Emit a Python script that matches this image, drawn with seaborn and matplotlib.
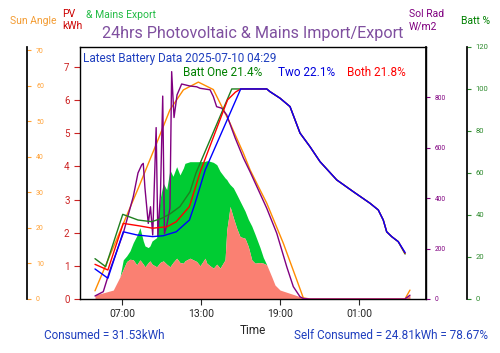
import matplotlib
matplotlib.use("Agg")
import matplotlib.pyplot as plt
import seaborn as sns

sns.set_theme(style="white")
plt.rcParams["font.family"] = ["Roboto", "DejaVu Sans"]

# --- data (hours since midnight of first day) ---
fill_hours = [4.92, 5.68, 6.31, 6.82, 7.07, 7.33, 7.58, 7.83, 8.09, 8.34, 8.59, 8.72, 8.97,
              9.10, 9.26, 9.61, 9.86, 10.11, 10.37, 10.62, 10.85, 11.13, 11.38, 11.64, 11.76,
              12.14, 12.65, 12.91, 13.29, 13.42, 13.67, 13.92, 14.18, 14.43, 14.81, 14.94,
              15.06, 15.19, 15.44, 15.70, 15.95, 16.33, 16.58, 16.84, 17.09, 17.47, 17.72,
              17.98, 18.36, 18.61, 18.99, 19.75, 20.51, 20.76, 21.27, 28.11, 28.49, 28.87]
self_used = [0.12, 0.20, 0.27, 0.67, 0.90, 1.13, 1.20, 1.18, 1.03, 1.18, 1.05, 0.97, 1.10,
             1.15, 1.05, 0.97, 1.10, 1.15, 1.05, 0.97, 1.10, 1.23, 1.10, 1.08, 1.15,
             1.23, 1.13, 1.00, 1.23, 1.08, 1.00, 0.93, 1.05, 0.93, 1.18, 2.08,
             2.40, 2.79, 2.45, 2.13, 1.88, 1.83, 1.58, 1.18, 1.08, 1.10, 1.08,
             1.03, 0.67, 0.42, 0.27, 0.17, 0.07, 0.02, 0.00, 0.00, 0.00, 0.12]
pv_total = [0.12, 0.20, 0.27, 0.67, 1.18, 1.30, 1.45, 1.70, 1.90, 2.15, 1.75, 1.60, 1.55,
            1.60, 1.75, 1.85, 3.00, 3.49, 3.30, 3.89, 3.70, 3.99, 3.74, 3.95, 4.09,
            4.14, 4.14, 4.14, 4.15, 4.17, 4.15, 4.12, 4.05, 3.85, 3.65, 3.60,
            3.52, 3.45, 3.35, 3.15, 2.95, 2.65, 2.40, 2.20, 1.95, 1.55, 1.25,
            1.03, 0.67, 0.42, 0.27, 0.17, 0.07, 0.02, 0.00, 0.00, 0.00, 0.12]

sun_hours = [4.92, 6.0, 7.0, 8.21, 9.61, 10.62, 11.64, 12.78, 13.92, 14.43, 15.19, 16.2,
             16.71, 17.34, 17.98, 19.24, 20.26, 20.76, 21.27, 28.49, 28.87]
sun_angle = [2.3, 11.8, 20.6, 31.2, 43.9, 53.3, 58.9, 61.1, 59.0, 55.2, 49.5, 41.1,
             36.4, 31.7, 27.0, 15.7, 5.4, 0.3, 0.0, 0.0, 2.5]

rad_hours = [4.92, 5.55, 6.06, 7.07, 7.83, 8.19, 8.47, 8.59, 8.72, 8.97, 9.14, 9.31, 9.57,
             9.70, 9.90, 10.07, 10.20, 10.37, 10.62, 10.75, 10.93, 11.16, 11.51, 12.14,
             12.65, 12.91, 13.42, 13.67, 13.92, 14.17, 14.56, 14.94, 15.57, 16.20, 16.71,
             17.98, 18.74, 19.50, 20.00, 20.51, 20.76, 21.27, 28.49, 28.87]
sol_rad = [12, 29, 115, 261, 406, 500, 532, 538, 440, 300, 366, 254, 680,
           250, 420, 805, 260, 290, 360, 902, 720, 810, 853, 845,
           842, 836, 832, 830, 803, 763, 757, 730, 640, 560, 505,
           360, 261, 128, 49, 9, 2, 0, 0, 15]

fall_hours = [18.23, 18.99, 19.75, 20.51, 21.27, 22.03, 23.30, 24.56, 25.83, 26.46,
              26.84, 27.10, 27.48, 27.98]
fall_pct = [98.7, 95.6, 91.6, 79.0, 72.5, 65.4, 56.7, 51.1, 45.6, 42.4,
            37.6, 32.0, 29.7, 27.3]

one_hours = [4.92, 5.73, 7.03, 8.19, 9.23, 9.99, 10.62, 11.38, 12.14, 12.60, 15.32, 17.98]
one_pct = [19.2, 15.4, 40.3, 37.6, 36.8, 38.4, 40.5, 44.0, 51.0, 60.0, 100, 100]
two_hours = [4.92, 5.90, 7.07, 8.10, 9.30, 10.10, 11.10, 12.10, 12.50, 13.30, 16.00, 17.98]
two_pct = [14.3, 9.9, 32.0, 30.5, 29.7, 30.1, 32.0, 37.6, 45.0, 61.4, 100, 100]
both_hours = [4.92, 5.90, 7.07, 8.30, 9.30, 10.40, 11.10, 12.10, 12.95, 15.00, 15.60, 16.00, 17.98]
both_pct = [16.5, 13.8, 36.0, 34.8, 33.7, 34.4, 36.8, 44.0, 61.0, 94.8, 98.5, 100, 100]
end_hour = 28.5
end_one, end_two, end_both = 21.4, 22.1, 21.8

tick_hours = [7, 13, 19, 25]
tick_labels = ["07:00", "13:00", "19:00", "01:00"]

fig = plt.figure(figsize=(5.0, 3.53), dpi=100)
ax = fig.add_axes([0.16, 0.153, 0.692, 0.714])

ax.fill_between(fill_hours, self_used, pv_total, color="#00cc33", linewidth=0)
ax.fill_between(fill_hours, 0, self_used, color="salmon", linewidth=0)
ax.set_xlim(3.78, 30.09)
ax.set_ylim(0, 7.6)
ax.set_xticks(tick_hours)
ax.set_xticklabels(tick_labels, fontsize=7.5)
ax.set_xlabel("Time", fontsize=8.5, labelpad=3)
ax.set_yticks(range(0, 8))
ax.tick_params(axis="y", colors="#cc2222", labelsize=7, length=4, width=0.8, left=True)
ax.tick_params(axis="x", length=4, width=0.8, bottom=True, labelsize=7.5)
for s in ax.spines.values():
    s.set_color("black")
    s.set_linewidth(1.0)

# sun angle axis (far left)
ax_sun = ax.twinx()
sns.lineplot(x=sun_hours, y=sun_angle, ax=ax_sun, color="darkorange", linewidth=1.0)
ax_sun.set_ylim(0, 71)
ax_sun.set_yticks(range(0, 71, 10))
ax_sun.spines["right"].set_position(("axes", -0.153))
ax_sun.tick_params(axis="y", colors="#ffa033", labelsize=5, length=3, width=0.8, right=True)
for k in ["top", "bottom", "left"]:
    ax_sun.spines[k].set_visible(False)
ax_sun.spines["right"].set_color("black")

# solar radiation axis
ax_rad = ax.twinx()
sns.lineplot(x=rad_hours, y=sol_rad, ax=ax_rad, color="purple", linewidth=1.0)
ax_rad.set_ylim(0, 1000)
ax_rad.set_yticks(range(0, 801, 200))
ax_rad.tick_params(axis="y", colors="purple", labelsize=4.7, length=3, width=0.8, right=True)
for k in ["top", "bottom", "left"]:
    ax_rad.spines[k].set_visible(False)
ax_rad.spines["right"].set_color("black")

# battery axis (far right)
ax_bat = ax.twinx()
sns.lineplot(x=one_hours + fall_hours + [end_hour], y=one_pct + fall_pct + [end_one],
             ax=ax_bat, color="#1f7f1f", linewidth=1.0)
sns.lineplot(x=both_hours + fall_hours + [end_hour], y=both_pct + fall_pct + [end_both],
             ax=ax_bat, color="red", linewidth=1.0)
sns.lineplot(x=two_hours + fall_hours + [end_hour], y=two_pct + fall_pct + [end_two],
             ax=ax_bat, color="blue", linewidth=1.0)
ax_bat.set_ylim(0, 120)
ax_bat.set_yticks(range(0, 121, 20))
ax_bat.spines["right"].set_position(("axes", 1.118))
ax_bat.tick_params(axis="y", colors="#2e8b2e", labelsize=5.5, length=3, width=0.8, right=True)
for k in ["top", "bottom", "left"]:
    ax_bat.spines[k].set_visible(False)
ax_bat.spines["right"].set_color("black")

for a in (ax_sun, ax_rad, ax_bat):
    a.set_ylabel("")
    a.set_xlim(3.78, 30.09)

# texts
fig.suptitle("24hrs Photovoltaic & Mains Import/Export", x=0.506, y=0.905,
             fontsize=11.6, color="#7f4f9f", va="center")
ax.text(0.008, 0.955, "Latest Battery Data 2025-07-10 04:29", transform=ax.transAxes,
        fontsize=8.5, color="#1f3fbf", va="center", ha="left")
ax.text(0.298, 0.9, "Batt One 21.4%", transform=ax.transAxes, fontsize=8.5,
        color="green", va="center", ha="left")
ax.text(0.572, 0.9, "Two 22.1%", transform=ax.transAxes, fontsize=8.5,
        color="#0000dd", va="center", ha="left")
ax.text(0.772, 0.9, "Both 21.8%", transform=ax.transAxes, fontsize=8.5,
        color="red", va="center", ha="left")

fig.text(0.066, 0.94, "Sun Angle", fontsize=7.5, color="#f39c33", ha="center", va="center")
fig.text(0.125, 0.96, "PV", fontsize=7.5, color="#cc0000", ha="left", va="center")
fig.text(0.125, 0.925, "kWh", fontsize=7.5, color="#cc0000", ha="left", va="center")
fig.text(0.172, 0.958, "& Mains Export", fontsize=7.5, color="#22bb44", ha="left", va="center")
fig.text(0.818, 0.96, "Sol Rad", fontsize=7.5, color="purple", ha="left", va="center")
fig.text(0.818, 0.925, "W/m2", fontsize=7.5, color="purple", ha="left", va="center")
fig.text(0.951, 0.94, "Batt %", fontsize=7.5, color="green", ha="center", va="center")

fig.text(0.088, 0.05, "Consumed = 31.53kWh", fontsize=8.5, color="#1f3fbf", ha="left", va="center")
fig.text(0.976, 0.05, "Self Consumed = 24.81kWh = 78.67%", fontsize=8.5, color="#1f3fbf",
         ha="right", va="center")

fig.savefig("out.png", dpi=100)
